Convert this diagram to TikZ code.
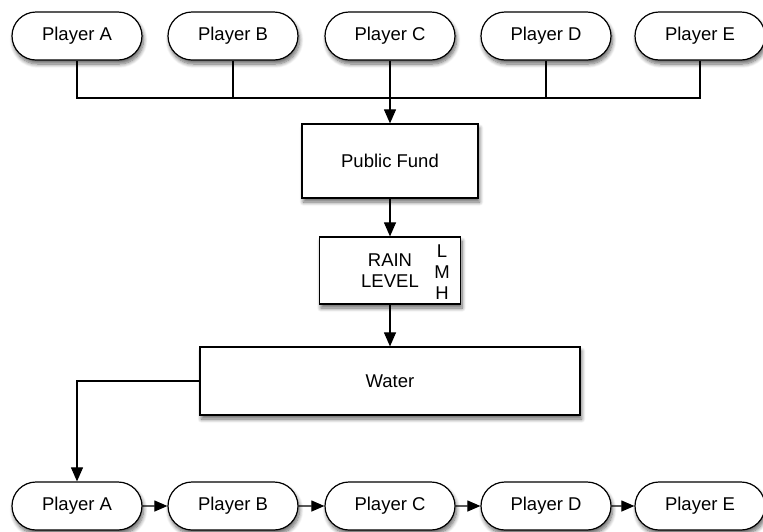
\documentclass[tikz,border=0pt]{standalone}
\usepackage{fontspec}
\setmainfont{Liberation Sans}
\usetikzlibrary{shapes.misc,arrows.meta,shadows.blur}

\tikzset{
  shade/.style={blur shadow={shadow xshift=1.5pt,shadow yshift=-4pt,shadow blur steps=8,shadow blur radius=4pt,shadow opacity=60}},
  player/.style={rounded rectangle,draw,line width=1.2pt,fill=white,shade,minimum width=130pt,minimum height=48pt,inner sep=0pt},
  box/.style={rectangle,draw,line width=1.2pt,fill=white,shade,inner sep=0pt},
  link/.style={line width=1.1pt},
  flow/.style={link,-{Triangle[length=14pt,width=12pt]}},
  pass/.style={link,-{Triangle[length=13pt,width=11pt]}}
}

\begin{document}
\begin{tikzpicture}[x=1pt,y=-1pt,font=\fontsize{18.5}{21}\selectfont]
  \useasboundingbox (0,0) rectangle (763,531);

  % players who give to the fund
  \node[player] (ta) at (77,36)  {Player A};
  \node[player] (tb) at (233,36) {Player B};
  \node[player] (tc) at (390,36) {Player C};
  \node[player] (td) at (546,36) {Player D};
  \node[player] (te) at (700,36) {Player E};

  \node[box,minimum width=176pt,minimum height=74pt] (fund) at (390,161) {Public Fund};
  \node[box,minimum width=141pt,minimum height=67pt,align=center] (rain) at (390,270.5) {RAIN\\LEVEL};
  \node[align=center,font=\fontsize{18.5}{21}\selectfont] (lmh) at (442,272) {L\\M\\H};
  \node[box,minimum width=380pt,minimum height=68pt] (water) at (390,381) {Water};

  % players who take the water, in turn
  \node[player] (ba) at (77,506)  {Player A};
  \node[player] (bb) at (233,506) {Player B};
  \node[player] (bc) at (390,506) {Player C};
  \node[player] (bd) at (546,506) {Player D};
  \node[player] (be) at (700,506) {Player E};

  \coordinate (bus) at (390,98);
  \draw[link] (ta.south) |- (bus);
  \draw[link] (tb.south) |- (bus);
  \draw[link] (td.south) |- (bus);
  \draw[link] (te.south) |- (bus);
  \draw[flow] (tc.south) -- (fund.north);
  \draw[flow] (fund.south) -- (rain.north);
  \draw[flow] (rain.south) -- (water.north);
  \draw[flow] (water.west) -| (ba.north);

  \draw[pass] (ba) -- (bb);
  \draw[pass] (bb) -- (bc);
  \draw[pass] (bc) -- (bd);
  \draw[pass] (bd) -- (be);
\end{tikzpicture}
\end{document}
